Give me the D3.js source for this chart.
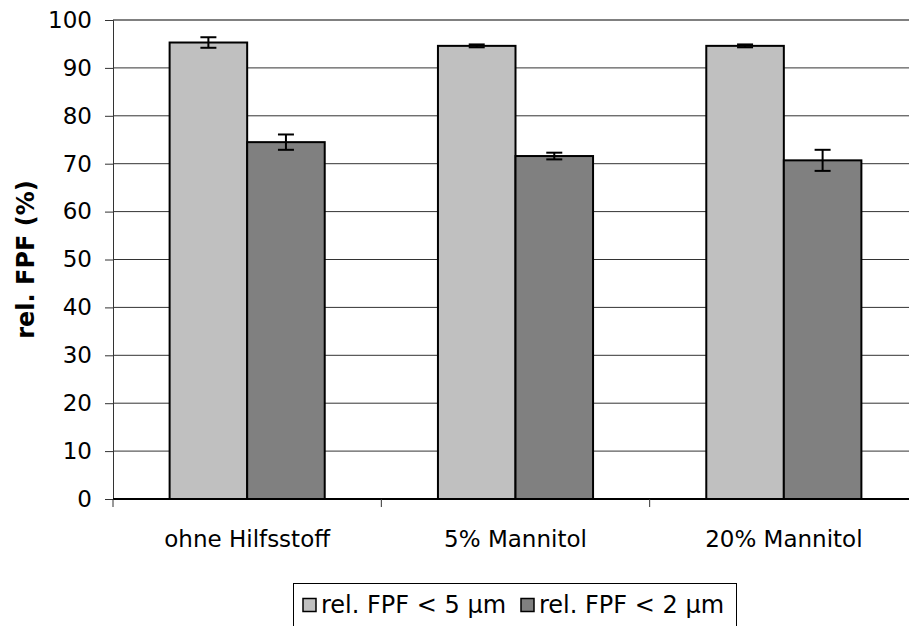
<!DOCTYPE html>
<html>
<head>
<meta charset="utf-8">
<script src="https://cdn.jsdelivr.net/npm/d3@7"></script>
<style>
  body { margin: 0; background: #fff; }
  text { font-family: "DejaVu Sans", Verdana, sans-serif; fill: #000; }
</style>
</head>
<body>
<div id="chart"></div>
<script>
const categories = ["ohne Hilfsstoff", "5% Mannitol", "20% Mannitol"];
const seriesNames = ["rel. FPF < 5 µm", "rel. FPF < 2 µm"];
const values5 = [95.3, 94.6, 94.6];
const err5 = [1.1, 0.3, 0.3];
const values2 = [74.5, 71.6, 70.7];
const err2 = [1.6, 0.7, 2.2];
const yTicks = [0, 10, 20, 30, 40, 50, 60, 70, 80, 90, 100];

const width = 909, height = 626;
const margin = { left: 113, top: 20, right: -9, bottom: 127 };

const svg = d3.select("#chart")
  .append("svg")
  .attr("width", width)
  .attr("height", height);

const x0 = d3.scaleBand()
  .domain(categories)
  .range([margin.left, width - margin.right]);

const x1 = d3.scaleBand()
  .domain(seriesNames)
  .range([0, x0.bandwidth()])
  .paddingOuter(0.73);

const y = d3.scaleLinear()
  .domain([0, 100])
  .range([height - margin.bottom, margin.top]);

const color = d3.scaleOrdinal()
  .domain(seriesNames)
  .range(["#c0c0c0", "#808080"]);

// gridlines
svg.append("g")
  .selectAll("line")
  .data(yTicks.filter(d => d > 0))
  .join("line")
  .attr("x1", margin.left)
  .attr("x2", width)
  .attr("y1", d => y(d))
  .attr("y2", d => y(d))
  .attr("stroke", d => d === 100 ? "#808080" : "#333")
  .attr("stroke-width", d => d === 100 ? 2 : 1);

// y axis
const yAxis = svg.append("g")
  .attr("transform", `translate(${margin.left},0)`)
  .call(d3.axisLeft(y).tickValues(yTicks).tickSize(8).tickPadding(13));
yAxis.select(".domain").attr("stroke", "#333");
yAxis.selectAll(".tick line").attr("stroke", "#333");
yAxis.selectAll("text").style("font-size", "23px");

// bars
const rows = categories.map((c, i) => [
  { cat: c, s: seriesNames[0], v: values5[i], e: err5[i] },
  { cat: c, s: seriesNames[1], v: values2[i], e: err2[i] }
]);

const groups = svg.append("g")
  .selectAll("g")
  .data(rows)
  .join("g")
  .attr("transform", d => `translate(${x0(d[0].cat)},0)`);

groups.selectAll("rect")
  .data(d => d)
  .join("rect")
  .attr("x", d => x1(d.s))
  .attr("width", x1.bandwidth())
  .attr("y", d => y(d.v))
  .attr("height", d => y(0) - y(d.v))
  .attr("fill", d => color(d.s))
  .attr("stroke", "#000")
  .attr("stroke-width", 2);

// error bars
const eb = groups.selectAll("g.err")
  .data(d => d)
  .join("g")
  .attr("class", "err")
  .attr("stroke", "#000")
  .attr("stroke-width", 2);
eb.append("line")
  .attr("x1", d => x1(d.s) + x1.bandwidth() / 2)
  .attr("x2", d => x1(d.s) + x1.bandwidth() / 2)
  .attr("y1", d => y(d.v + d.e))
  .attr("y2", d => y(d.v - d.e));
eb.selectAll("line.cap")
  .data(d => [d.v + d.e, d.v - d.e].map(v => ({ s: d.s, v })))
  .join("line")
  .attr("class", "cap")
  .attr("x1", d => x1(d.s) + x1.bandwidth() / 2 - 8)
  .attr("x2", d => x1(d.s) + x1.bandwidth() / 2 + 8)
  .attr("y1", d => y(d.v))
  .attr("y2", d => y(d.v));

// x axis
const xAxis = svg.append("g")
  .attr("transform", `translate(0,${y(0)})`);
xAxis.append("line")
  .attr("x1", margin.left)
  .attr("x2", width)
  .attr("stroke", "#000")
  .attr("stroke-width", 2);
xAxis.selectAll("line.tick")
  .data(categories)
  .join("line")
  .attr("class", "tick")
  .attr("x1", d => x0(d))
  .attr("x2", d => x0(d))
  .attr("y1", 0)
  .attr("y2", 8)
  .attr("stroke", "#333");
xAxis.selectAll("text")
  .data(categories)
  .join("text")
  .attr("x", d => x0(d) + x0.bandwidth() / 2)
  .attr("y", 48)
  .attr("text-anchor", "middle")
  .style("font-size", "23px")
  .text(d => d);

// y title
svg.append("text")
  .attr("transform", `translate(34,${y(50)}) rotate(-90)`)
  .attr("text-anchor", "middle")
  .style("font-size", "24px")
  .style("font-weight", "bold")
  .text("rel. FPF (%)");

// legend
const legend = svg.append("g").attr("transform", "translate(293,583)");
legend.append("rect")
  .attr("x", 0.5)
  .attr("y", 0.5)
  .attr("width", 443)
  .attr("height", 60)
  .attr("fill", "#fff")
  .attr("stroke", "#000")
  .attr("stroke-width", 1);
const item = legend.selectAll("g.item")
  .data(seriesNames)
  .join("g")
  .attr("class", "item")
  .attr("transform", (d, i) => `translate(${10 + i * 218},0)`);
item.append("rect")
  .attr("y", 15.5)
  .attr("width", 13)
  .attr("height", 13)
  .attr("fill", d => color(d))
  .attr("stroke", "#000")
  .attr("stroke-width", 1.5);
item.append("text")
  .attr("x", 18)
  .attr("y", 30)
  .style("font-size", "24px")
  .text(d => d);
</script>
</body>
</html>
